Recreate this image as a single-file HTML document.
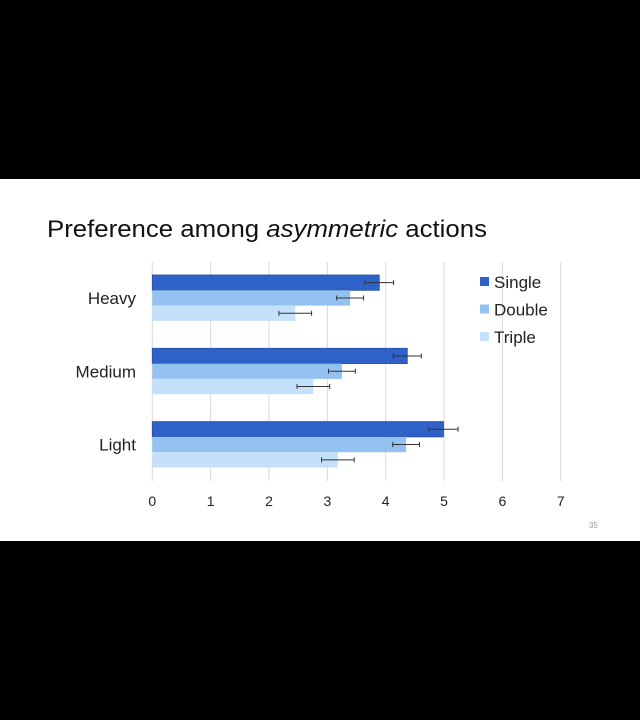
<!DOCTYPE html>
<html><head><meta charset="utf-8"><style>
html,body{margin:0;padding:0;background:#000;}
svg{display:block;font-family:"Liberation Sans",sans-serif;}
</style></head><body>
<svg width="640" height="720" viewBox="0 0 640 720">
<rect x="0" y="0" width="640" height="720" fill="#000"/>
<rect x="0" y="179" width="640" height="362" fill="#fff"/>
<text x="47" y="237" font-size="24" fill="#111" textLength="440" lengthAdjust="spacingAndGlyphs">Preference among <tspan font-style="italic">asymmetric</tspan> actions</text>
<g id="chart"></g>
<text x="589" y="528" font-size="8" fill="#999">35</text>
</svg>
<script>
const categories = ["Heavy","Medium","Light"];
const seriesNames = ["Single","Double","Triple"];
const singleVals = [3.89, 4.37, 4.99];
const doubleVals = [3.39, 3.25, 4.35];
const tripleVals = [2.45, 2.76, 3.18];
const singleErr = [0.245, 0.24, 0.25];
const doubleErr = [0.23, 0.23, 0.23];
const tripleErr = [0.28, 0.28, 0.28];
const ticks = [0,1,2,3,4,5,6,7];

const NS = "http://www.w3.org/2000/svg";
const g = document.getElementById('chart');
const colors = ["#2F62C8","#93C2F0","#C5E0FA"];
const x = v => 152.3 + v * 58.35;
const groupTop = i => 275 + i * 73.3;
const barH = 15.3;
function mk(tag, attrs){const e=document.createElementNS(NS,tag);for(const k in attrs)e.setAttribute(k,attrs[k]);g.appendChild(e);return e;}

ticks.forEach(t=>{
  const l=mk('line',{x1:x(t),x2:x(t),y1:262,y2:481,stroke:'#d9d9d9','stroke-width':1});
  
  
  const tx=mk('text',{x:x(t),y:506,'font-size':14,'text-anchor':'middle',fill:'#222'});
  tx.textContent=t;
  
  
});

const vals=[singleVals,doubleVals,tripleVals];
const errs=[singleErr,doubleErr,tripleErr];
categories.forEach((c,i)=>{
  const lab=mk('text',{x:136,y:groupTop(i)+barH*1.5+6,'font-size':17,'text-anchor':'end',fill:'#222'});
  lab.textContent=c;
  
  
  vals.forEach((arr,s)=>{
    const y=groupTop(i)+s*barH;
    const attrs={x:x(0),y:y,width:x(arr[i])-x(0),height:barH,fill:colors[s]};
    if(s===0){attrs.stroke='#24509f';attrs['stroke-width']=0.8;}
    const r=mk('rect',attrs);
    
    
    const cy=y+barH/2, e=errs[s][i];
    const eg=document.createElementNS(NS,'g');
    
    
    g.appendChild(eg);
    [[x(arr[i]-e),cy,x(arr[i]+e),cy],[x(arr[i]-e),cy-2.5,x(arr[i]-e),cy+2.5],[x(arr[i]+e),cy-2.5,x(arr[i]+e),cy+2.5]].forEach(p=>{
      const l=document.createElementNS(NS,'line');
      l.setAttribute('x1',p[0]);l.setAttribute('y1',p[1]);l.setAttribute('x2',p[2]);l.setAttribute('y2',p[3]);
      l.setAttribute('stroke','#333');l.setAttribute('stroke-width','1');
      eg.appendChild(l);
    });
  });
});

seriesNames.forEach((n,s)=>{
  const cy=282+s*27.5;
  const r=mk('rect',{x:480,y:cy-5,width:9,height:9,fill:colors[s]});
  
  
  const t=mk('text',{x:494,y:cy+6,'font-size':17,fill:'#222'});
  t.textContent=n;
  
  
});
</script>
</body></html>
